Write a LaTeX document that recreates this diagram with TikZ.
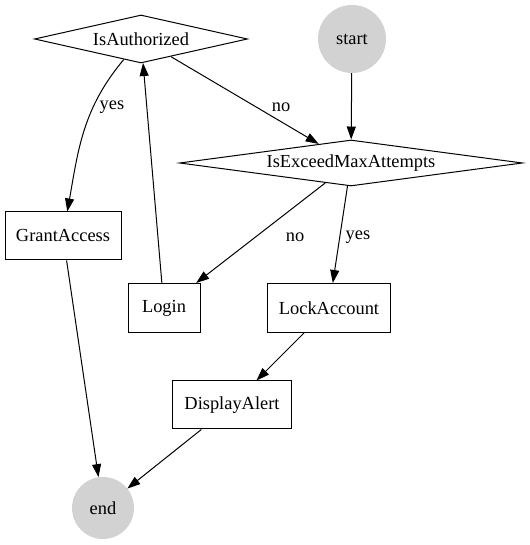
\documentclass[tikz,border=0pt]{standalone}
\usepackage{fontspec}
\setmainfont{Liberation Serif}
\usetikzlibrary{arrows.meta,shapes.geometric}

\begin{document}
\begin{tikzpicture}[x=1pt,y=1pt,font=\fontsize{18.4}{20}\selectfont,
    box/.style={draw,line width=1pt,inner sep=0pt,minimum height=48pt},
    cond/.style={draw,diamond,line width=1pt,inner sep=0pt},
    term/.style={circle,fill=lightgray!70,inner sep=0pt},
    arr/.style={-{Triangle[length=13pt,width=9pt]},line width=1pt},
    lbl/.style={inner sep=0pt}]
    \useasboundingbox (0,0) rectangle (529,545);
    \node[cond,aspect=4.44,minimum width=213pt,minimum height=48pt] (auth) at (141,506) {IsAuthorized};
    \node[term,minimum size=68pt] (start) at (352,506) {start};
    \node[cond,aspect=7.46,minimum width=343pt,minimum height=46pt] (exceed) at (351,382) {IsExceedMaxAttempts};
    \node[box,minimum width=116pt] (grant) at (63,309) {GrantAccess};
    \node[box,minimum width=72pt,minimum height=49pt] (login) at (164,237) {Login};
    \node[box,minimum width=123pt,minimum height=49pt] (lock) at (329,237) {LockAccount};
    \node[box,minimum width=119pt] (alert) at (232,140) {DisplayAlert};
    \node[term,minimum size=62pt] (end) at (103,37) {end};
    \draw[arr] (auth) to[out=-130,in=80] (grant);
    \draw[arr] (auth) -- (exceed);
    \draw[arr] (start) -- (exceed);
    \draw[arr] (exceed) -- (login);
    \draw[arr] (exceed) -- (lock);
    \draw[arr] (login) -- (auth);
    \draw[arr] (grant) -- (end);
    \draw[arr] (lock) -- (alert);
    \draw[arr] (alert) -- (end);
    \node[lbl] (yesgrant) at (112,438) {yes};
    \node[lbl] (noexceed) at (281,438) {no};
    \node[lbl] (nologin) at (295,308) {no};
    \node[lbl] (yeslock) at (358,308) {yes};
\end{tikzpicture}
\end{document}
